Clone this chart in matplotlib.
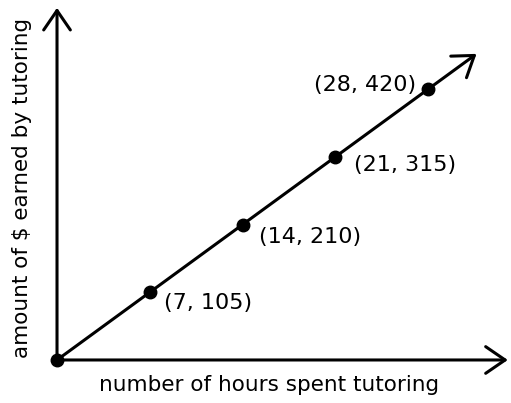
import matplotlib
matplotlib.use("Agg")
import matplotlib.pyplot as plt

hours = [0, 7, 14, 21, 28]
earned = [0, 105, 210, 315, 420]
point_labels = ["", "(7, 105)", "(14, 210)", "(21, 315)", "(28, 420)"]

fig = plt.figure(figsize=(5.11, 4.03), dpi=100)
ax = fig.add_axes([0, 0, 1, 1])
ax.set_xlim(-4.30, 34.24)
ax.set_ylim(-66.7, 558.1)
ax.axis("off")

arrow = dict(arrowstyle="->,head_length=0.7,head_width=0.48",
             lw=2.2, color="black", mutation_scale=20,
             shrinkA=0, shrinkB=0)

# axes with open arrow heads
ax.annotate("", xy=(34.0, 0), xytext=(0, 0), arrowprops=arrow)
ax.annotate("", xy=(0, 546), xytext=(0, 0), arrowprops=arrow)

# the line, running a bit past the last point
ext = 1.13
ax.annotate("", xy=(hours[-1] * ext, earned[-1] * ext), xytext=(0, 0),
            arrowprops=arrow)

ax.plot(hours, earned, "o", color="black", markersize=9, zorder=3)

offsets = [None, (10, -8), (12, -9), (13, -6), (-9, 3)]
for x, y, lab, off in zip(hours, earned, point_labels, offsets):
    if not lab:
        continue
    ha = "right" if off[0] < 0 else "left"
    ax.annotate(lab, xy=(x, y), xytext=off, textcoords="offset points",
                ha=ha, va="center", fontsize=16)

fig.text(0.526, 0.045, "number of hours spent tutoring",
         ha="center", va="center", fontsize=15.5)
fig.text(0.043, 0.533, "amount of $ earned by tutoring",
         ha="center", va="center", rotation=90, fontsize=15.5)

plt.savefig("out.png", dpi=100)
